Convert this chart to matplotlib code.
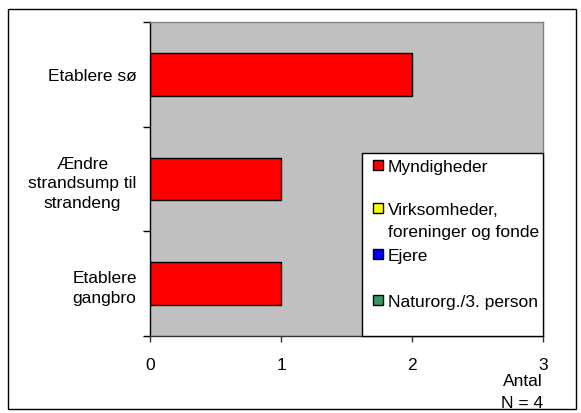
import matplotlib
matplotlib.use("Agg")
import matplotlib.pyplot as plt
from matplotlib.patches import Rectangle

plt.rcParams['font.family'] = ['Liberation Sans', 'DejaVu Sans']

categories = ["Etablere sø", "Ændre\nstrandsump til\nstrandeng", "Etablere\ngangbro"]
myndigheder = [2, 1, 1]
series_names = ["Myndigheder", "Virksomheder,\nforeninger og fonde", "Ejere", "Naturorg./3. person"]
series_colors = ["#FF0000", "#FFFF00", "#0000FF", "#339966"]
x_ticks = [0, 1, 2, 3]
x_label = "Antal\nN = 4"

W, H = 581, 414
FS = 12.5
LS = 1.4
PITCH = 22  # pixels between text lines


def fx(px):
    return px / W


def fy(py):
    return 1 - py / H


fig = plt.figure(figsize=(W / 100, H / 100), dpi=100)
ax = fig.add_axes([fx(150), fy(337), fx(543 - 150), (337 - 23) / H])
ax.set_facecolor("#C0C0C0")

ypos = [len(categories) - 1 - i for i in range(len(categories))]
ax.barh(ypos, myndigheder, height=0.41, color=series_colors[0], edgecolor="black", linewidth=1.0)

ax.set_xlim(0, 3)
ax.set_ylim(-0.5, len(categories) - 0.5)
ax.set_xticks(x_ticks)
ax.set_xticklabels([str(t) for t in x_ticks], fontsize=FS)
ax.set_yticks(ypos)
ax.set_yticklabels(categories, fontsize=FS, linespacing=LS)
for lab in ax.get_yticklabels():
    lab.set_multialignment('center')
ax.set_yticks([-0.5, 0.5, 1.5, 2.5], minor=True)
ax.tick_params(axis='y', which='major', length=0, pad=9.5)
ax.tick_params(axis='y', which='minor', length=5, width=1.0, color='black')
ax.tick_params(axis='x', which='major', length=4, width=1.0, color='#333333', pad=11)

for s in ['top', 'right']:
    ax.spines[s].set_color('#808080')
    ax.spines[s].set_linewidth(1.0)
ax.spines['left'].set_color('black')
ax.spines['left'].set_linewidth(1.0)
ax.spines['bottom'].set_color('#333333')
ax.spines['bottom'].set_linewidth(1.0)

# legend (drawn manually to match the Excel layout)
fig.patches.append(Rectangle((fx(362), fy(337)), fx(543 - 362), (337 - 154) / H, transform=fig.transFigure,
                             facecolor='white', edgecolor='black', linewidth=1.0, figure=fig, zorder=5))
entry_baseline = [172, 215, 261, 307]
for name, col, yb in zip(series_names, series_colors, entry_baseline):
    fig.patches.append(Rectangle((fx(373), fy(yb - 1)), fx(10), 10 / H, transform=fig.transFigure,
                                 facecolor=col, edgecolor='black', linewidth=1.0, figure=fig, zorder=6))
    for k, line in enumerate(name.split("\n")):
        fig.text(fx(388), fy(yb + PITCH * k), line, ha='left', va='baseline', fontsize=FS, zorder=7)

for k, line in enumerate(x_label.split("\n")):
    fig.text(fx(543), fy(386.5 + PITCH * k), line, ha='right', va='baseline', fontsize=FS)

fig.patches.append(Rectangle((fx(8), fy(410)), fx(576 - 8), (410 - 10) / H, transform=fig.transFigure,
                             fill=False, edgecolor='black', linewidth=1.0, figure=fig))

fig.savefig("out.png", dpi=100)
